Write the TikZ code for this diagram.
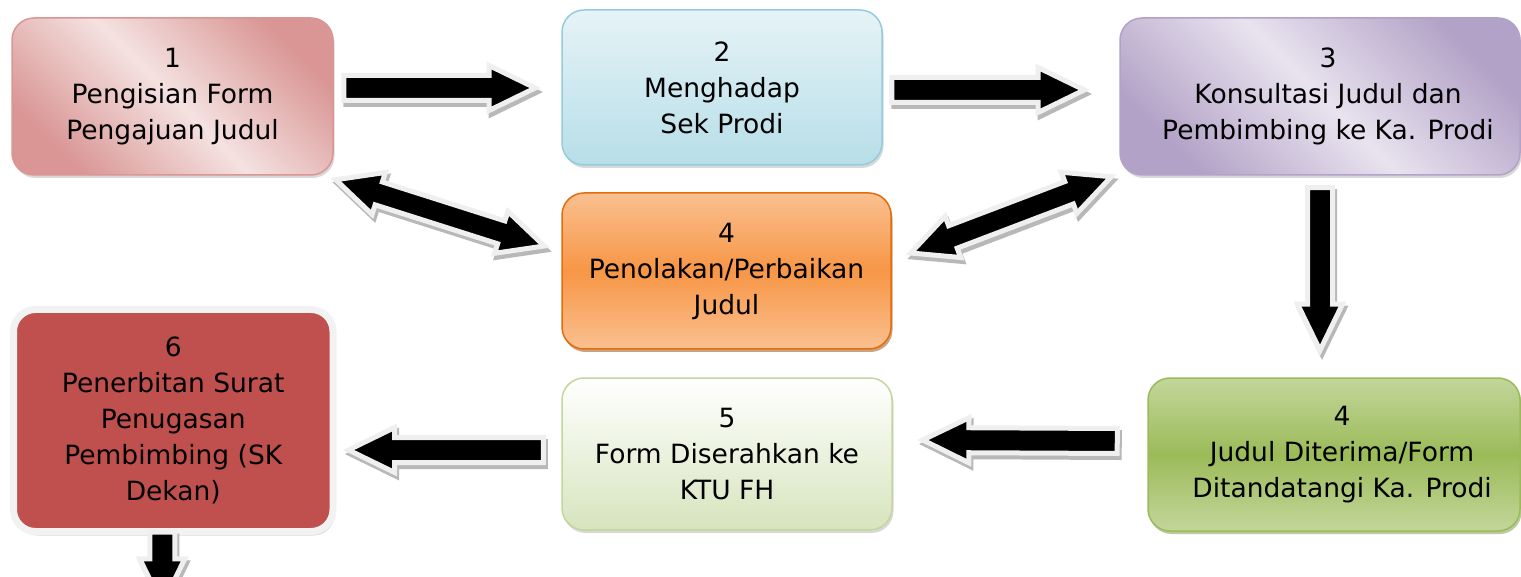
\documentclass[tikz,border=0pt]{standalone}
\usepackage{fontspec}
\setmainfont{DejaVu Sans}
\usetikzlibrary{shapes.arrows,shadows,calc}
\definecolor{pinkL}{HTML}{F4E2E1}
\definecolor{pinkD}{HTML}{D99694}
\definecolor{pinkB}{HTML}{D99694}
\definecolor{blueT}{HTML}{E6F3F7}
\definecolor{blueB}{HTML}{B7DEE8}
\definecolor{blueBd}{HTML}{93CDDD}
\definecolor{purL}{HTML}{E8E3EF}
\definecolor{purD}{HTML}{B3A2C7}
\definecolor{orT}{HTML}{FAC090}
\definecolor{orM}{HTML}{F79646}
\definecolor{orBd}{HTML}{E46C0A}
\definecolor{orSh}{HTML}{984807}
\definecolor{lgB}{HTML}{D7E4BD}
\definecolor{lgBd}{HTML}{C3D69B}
\definecolor{gT}{HTML}{C3D69B}
\definecolor{gM}{HTML}{9BBB59}
\definecolor{gSh}{HTML}{77933C}
\definecolor{redF}{HTML}{C0504D}
\definecolor{frameC}{HTML}{F2F2F2}
\definecolor{arrowOut}{HTML}{EFEFEF}
\definecolor{arrowSh}{HTML}{B8B8B8}
\pgfdeclarehorizontalshading{pinkband}{100bp}{color(0bp)=(pinkD); color(25bp)=(pinkD); color(50bp)=(pinkL); color(75bp)=(pinkD); color(100bp)=(pinkD)}
\pgfdeclarehorizontalshading{purband}{100bp}{color(0bp)=(purD); color(25bp)=(purD); color(50bp)=(purL); color(75bp)=(purD); color(100bp)=(purD)}
% #1 style, #2 start anchor name, #3 start, #4 end
\newcommand\blkarrow[4]{%
  \path let \p1=#3, \p2=#4,
    \n1={atan2(\y2-\y1,\x2-\x1)},
    \n2={veclen(\x2-\x1,\y2-\y1)} in
    node[#1, arrowshadow, rotate=\n1, minimum height=\n2, anchor=#2] at ($#3+(2,4)$) {}
    node[#1, rotate=\n1, minimum height=\n2, anchor=#2] at #3 {};}
\newcommand\sh{\hspace*{16pt}}
\begin{document}
\begin{tikzpicture}[x=1pt,y=-1pt,
  box/.style={rounded corners=22pt, line width=1.5pt, align=center, inner sep=0pt,
    font=\fontsize{26.5}{36}\selectfont, text=black},
  pinkbox/.style={box, draw=pinkB, shade, shading=pinkband, shading angle=45,
    drop shadow={shadow xshift=1.5pt, shadow yshift=-3pt, fill=black!30}},
  bluebox/.style={box, draw=blueBd, top color=blueT, bottom color=blueB,
    drop shadow={shadow xshift=1.5pt, shadow yshift=-3pt, fill=black!30}},
  purbox/.style={box, draw=purD, shade, shading=purband, shading angle=45,
    drop shadow={shadow xshift=1.5pt, shadow yshift=-3pt, fill=black!30}},
  orbox/.style={box, draw=orBd, top color=orT, bottom color=orT, middle color=orM,
    drop shadow={shadow xshift=1.5pt, shadow yshift=-3pt, fill=orSh}},
  lgbox/.style={box, draw=lgBd, top color=white, bottom color=lgB,
    drop shadow={shadow xshift=1.5pt, shadow yshift=-3pt, fill=black!30}},
  gbox/.style={box, draw=gM, top color=gT, bottom color=gT, middle color=gM,
    drop shadow={shadow xshift=1.5pt, shadow yshift=-3pt, fill=gSh}},
  redbox/.style={box, draw=frameC, line width=7pt, fill=redF,
    drop shadow={shadow xshift=2pt, shadow yshift=-4pt, fill=black!30}},
  sarrow/.style={single arrow, draw=arrowOut, line width=5pt, fill=black,
    inner sep=0pt, inner ysep=10pt, outer sep=0pt, single arrow head extend=10pt,
    single arrow tip angle=52, single arrow head indent=0pt},
  darrow/.style={double arrow, draw=arrowOut, line width=5pt, fill=black,
    inner sep=0pt, inner ysep=9.5pt, outer sep=0pt, double arrow head extend=10pt,
    double arrow tip angle=52, double arrow head indent=0pt},
  arrowshadow/.style={draw=arrowSh, fill=arrowSh}
]
\useasboundingbox (0,0) rectangle (1521,577);
\clip (0,0) rectangle (1521,577);

\node[pinkbox, minimum width=321pt, minimum height=157pt] (b1) at (172.5,96.5)
  {1\\Pengisian Form\\Pengajuan Judul};
\node[bluebox, minimum width=320pt, minimum height=155pt] (b2) at (722,87.5)
  {2\\Menghadap\\Sek Prodi};
\node[purbox, minimum width=400pt, minimum height=157pt] (b3) at (1320,96.5)
  {\sh3\\\sh Konsultasi Judul dan\\\sh Pembimbing ke Ka. Prodi};
\node[orbox, minimum width=329pt, minimum height=156pt] (b4) at (726.5,271)
  {4\\Penolakan/Perbaikan\\Judul};
\node[gbox, minimum width=372pt, minimum height=153pt] (b4b) at (1334,454.5)
  {\sh4\\\sh Judul Diterima/Form\\\sh Ditandatangi Ka. Prodi};
\node[lgbox, minimum width=330pt, minimum height=152pt] (b5) at (727,454)
  {5\\Form Diserahkan ke\\KTU FH};
\node[redbox, minimum width=319.5pt, minimum height=222pt] (b6) at (173.25,420.5)
  {6\\Penerbitan Surat\\Penugasan\\Pembimbing (SK\\Dekan)};

% arrow end points
\coordinate (a1s) at ($(b1.east)+(10,-8.5)$);
\coordinate (a1e) at ($(b2.west)+(-26,0.5)$);
\coordinate (a2s) at ($(b2.east)+(9,2.5)$);
\coordinate (a2e) at ($(b3.west)+(-35,-6.5)$);
\coordinate (a3s) at ($(b1.south east)+(2,4)$);
\coordinate (a3e) at ($(b4.west)+(-17,-25)$);
\coordinate (a4s) at ($(b4.east)+(19,-18)$);
\coordinate (a4e) at ($(b3.south west)+(-8,1)$);
\coordinate (a5s) at ($(b3.south)+(0,12)$);
\coordinate (a5e) at ($(b4b.north)+(-14,-27)$);
\coordinate (a6s) at ($(b4b.west)+(-30,-13.5)$);
\coordinate (a6e) at ($(b5.east)+(30,-14)$);
\coordinate (a7s) at ($(b5.west)+(-18,-4)$);
\coordinate (a7e) at ($(b6.east)+(12,29.5)$);
\coordinate (a8s) at ($(b6.south)+(-11,-3)$);
\coordinate (a8e) at ($(b6.south)+(-11,70)$);

\blkarrow{sarrow}{tail}{(a1s)}{(a1e)}
\blkarrow{sarrow}{tail}{(a2s)}{(a2e)}
\blkarrow{darrow}{tip 2}{(a3s)}{(a3e)}
\blkarrow{darrow}{tip 2}{(a4s)}{(a4e)}
\blkarrow{sarrow}{tail}{(a5s)}{(a5e)}
\blkarrow{sarrow}{tail}{(a6s)}{(a6e)}
\blkarrow{sarrow}{tail}{(a7s)}{(a7e)}
\blkarrow{sarrow}{tail}{(a8s)}{(a8e)}
\end{tikzpicture}
\end{document}
